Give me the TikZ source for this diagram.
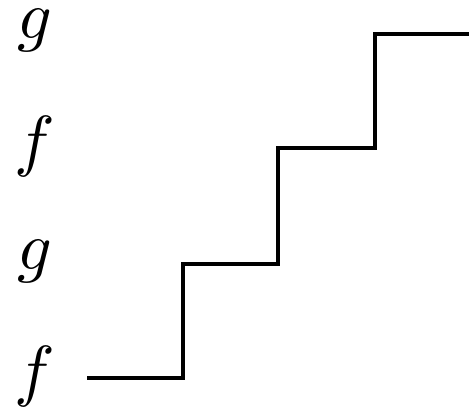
\documentclass[tikz,border=0pt]{standalone}
\newcommand{\biglbl}[1]{\scalebox{5.1}{$#1$}}
\begin{document}
\begin{tikzpicture}[x=0.75pt,y=-0.75pt,
  lbl/.style={anchor=base,inner sep=0pt},
  stair/.style={line width=3pt,line join=miter}]
\useasboundingbox (0,0) rectangle (469,411);
\node[lbl] (g1) at (35,38) {\biglbl{g}};
\node[lbl] (f1) at (35,163) {\biglbl{f}};
\node[lbl] (g2) at (35,269) {\biglbl{g}};
\node[lbl] (f2) at (35,393) {\biglbl{f}};
\coordinate (s0) at (87,377.5);
\coordinate (s1) at (183,377.5);
\coordinate (s2) at (183,263.5);
\coordinate (s3) at (278,263.5);
\coordinate (s4) at (278,147.5);
\coordinate (s5) at (375,147.5);
\coordinate (s6) at (375,33.8);
\coordinate (s7) at (470,33.8);
\draw[stair] (s0) -- (s1) -- (s2) -- (s3) -- (s4) -- (s5) -- (s6) -- (s7);
\end{tikzpicture}
\end{document}
